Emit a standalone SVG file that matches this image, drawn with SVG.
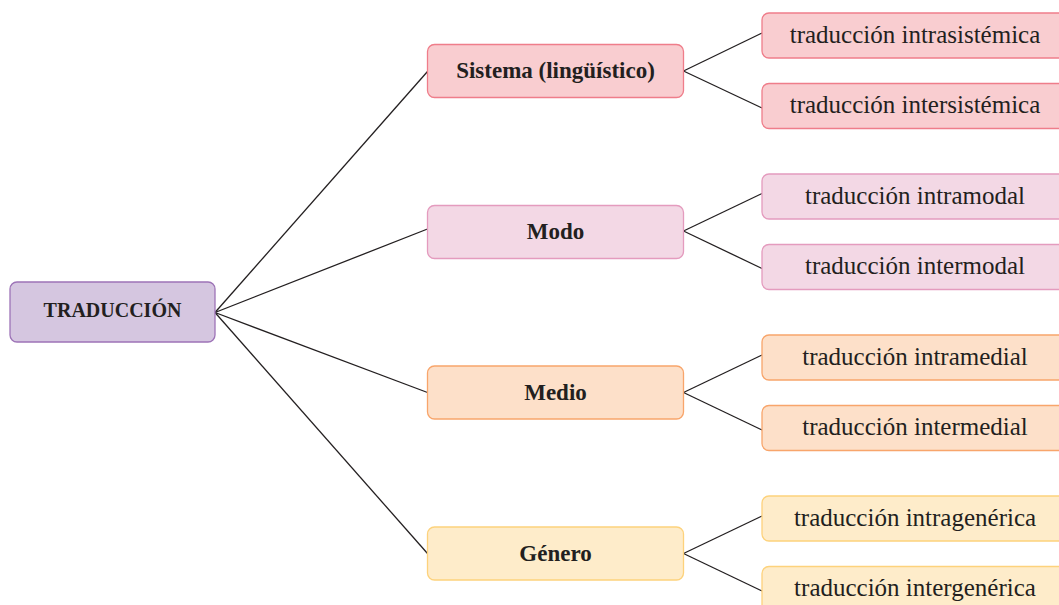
<svg xmlns="http://www.w3.org/2000/svg" width="1059" height="605" viewBox="0 0 1059 605">
  <style>
    .box { stroke-width: 1.3; }
    .root { fill: #d5c6e0; stroke: #9d73b7; }
    .sis { fill: #f9cdd0; stroke: #ef7d8a; }
    .mod { fill: #f3d8e5; stroke: #e49bbe; }
    .med { fill: #fde0c9; stroke: #f8a56b; }
    .gen { fill: #feecca; stroke: #fdd27c; }
    .lbl { font-family: "Liberation Serif", "DejaVu Serif", serif; fill: #231f20; text-anchor: middle; }
    .cat { font-size: 23px; font-weight: bold; }
    .rt { font-size: 20px; font-weight: bold; }
    .sub { font-size: 25px; }
    .conn line { stroke: #231f20; stroke-width: 1.3; fill: none; }
  </style>
  <rect width="1059" height="605" fill="#ffffff"/>
  <g id="connectors" class="conn">
    <line x1="215" y1="312.5" x2="427.5" y2="71.5"/>
    <line x1="215" y1="312.5" x2="427.5" y2="229"/>
    <line x1="215" y1="312.5" x2="427.5" y2="392.5"/>
    <line x1="215" y1="312.5" x2="427.5" y2="553.5"/>
    <line x1="683.5" y1="71" x2="762" y2="33"/>
    <line x1="683.5" y1="71" x2="762" y2="108"/>
    <line x1="683.5" y1="231" x2="762" y2="193.5"/>
    <line x1="683.5" y1="231" x2="762" y2="268.5"/>
    <line x1="683.5" y1="392.5" x2="762" y2="355"/>
    <line x1="683.5" y1="392.5" x2="762" y2="430"/>
    <line x1="683.5" y1="553.5" x2="762" y2="516"/>
    <line x1="683.5" y1="553.5" x2="762" y2="591"/>
  </g>
  <g id="n-traduccion">
    <rect class="box root" x="10" y="282" width="205" height="60" rx="7"/>
    <text class="lbl rt" x="112.5" y="317">TRADUCCIÓN</text>
  </g>
  <g id="n-sistema">
    <rect class="box sis" x="427.5" y="44.5" width="256" height="53" rx="7"/>
    <text class="lbl cat" x="555.5" y="78">Sistema (lingüístico)</text>
  </g>
  <g id="n-intrasistemica">
    <rect class="box sis" x="762" y="13" width="306" height="45" rx="7"/>
    <text class="lbl sub" x="915" y="42.5">traducción intrasistémica</text>
  </g>
  <g id="n-intersistemica">
    <rect class="box sis" x="762" y="83.5" width="306" height="45" rx="7"/>
    <text class="lbl sub" x="915" y="113">traducción intersistémica</text>
  </g>
  <g id="n-modo">
    <rect class="box mod" x="427.5" y="205.5" width="256" height="53" rx="7"/>
    <text class="lbl cat" x="555.5" y="239">Modo</text>
  </g>
  <g id="n-intramodal">
    <rect class="box mod" x="762" y="174" width="306" height="45" rx="7"/>
    <text class="lbl sub" x="915" y="203.5">traducción intramodal</text>
  </g>
  <g id="n-intermodal">
    <rect class="box mod" x="762" y="244.5" width="306" height="45" rx="7"/>
    <text class="lbl sub" x="915" y="274">traducción intermodal</text>
  </g>
  <g id="n-medio">
    <rect class="box med" x="427.5" y="366" width="256" height="53" rx="7"/>
    <text class="lbl cat" x="555.5" y="399.5">Medio</text>
  </g>
  <g id="n-intramedial">
    <rect class="box med" x="762" y="335" width="306" height="45" rx="7"/>
    <text class="lbl sub" x="915" y="364.5">traducción intramedial</text>
  </g>
  <g id="n-intermedial">
    <rect class="box med" x="762" y="405.5" width="306" height="45" rx="7"/>
    <text class="lbl sub" x="915" y="435">traducción intermedial</text>
  </g>
  <g id="n-genero">
    <rect class="box gen" x="427.5" y="527" width="256" height="53" rx="7"/>
    <text class="lbl cat" x="555.5" y="560.5">Género</text>
  </g>
  <g id="n-intragenerica">
    <rect class="box gen" x="762" y="496" width="306" height="45" rx="7"/>
    <text class="lbl sub" x="915" y="525.5">traducción intragenérica</text>
  </g>
  <g id="n-intergenerica">
    <rect class="box gen" x="762" y="566.5" width="306" height="45" rx="7"/>
    <text class="lbl sub" x="915" y="596">traducción intergenérica</text>
  </g>
</svg>
